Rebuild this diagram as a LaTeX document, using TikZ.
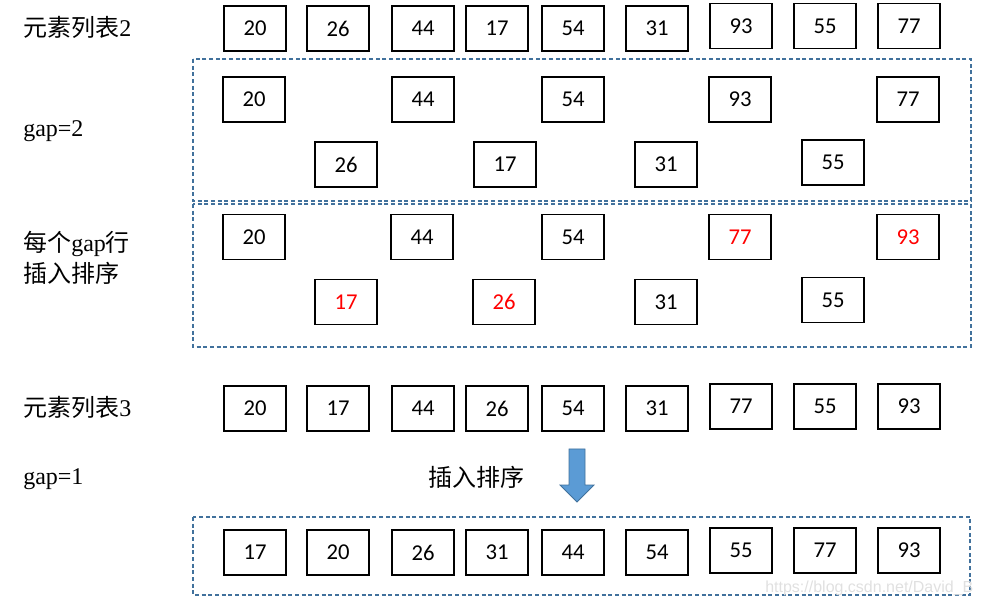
\documentclass[tikz,border=0pt]{standalone}
\usepackage{fontspec}
\setmainfont{Liberation Serif}
\newfontfamily\cjk{Noto Sans CJK SC}
\newfontfamily\numfont{Carlito}
\newfontfamily\wmfont{Liberation Sans}
\definecolor{dashblue}{HTML}{41719C}
\definecolor{arrowfill}{HTML}{5B9BD5}
\tikzset{
  cell/.style={draw=black, line width=1pt, minimum width=46.5pt, minimum height=33.75pt, inner sep=0pt, font=\numfont\fontsize{17}{17}\selectfont},
  redcell/.style={cell, text=red},
  group/.style={draw=dashblue, line width=0.8pt, dash pattern=on 3pt off 2pt},
  lbl/.style={anchor=west, inner sep=0pt, font=\fontsize{18}{20}\selectfont}
}
\begin{document}
\begin{tikzpicture}[x=0.75pt,y=-0.75pt]
\useasboundingbox (0,0) rectangle (981,605);
% labels
\node[lbl] (l1) at (23,27) {{\cjk 元素列表}2};
\node[lbl] (l2) at (23,131) {gap=2};
\node[lbl] (l3) at (23,244) {{\cjk 每个}gap{\cjk 行}};
\node[lbl] (l3b) at (23,273) {{\cjk 插入排序}};
\node[lbl] (l4) at (23,407) {{\cjk 元素列表}3};
\node[lbl] (l5) at (23,479) {gap=1};
\node[inner sep=0pt, font=\cjk\fontsize{18}{20}\selectfont] (l6) at (476,477) {插入排序};
% row 1
\node[cell] (a1) at (255,28.5) {20};
\node[cell] (a2) at (338,28.5) {26};
\node[cell] (a3) at (423,28.5) {44};
\node[cell] (a4) at (497,28.5) {17};
\node[cell] (a5) at (573,28.5) {54};
\node[cell] (a6) at (657,28.5) {31};
\node[cell] (a7) at (741,26) {93};
\node[cell] (a8) at (825,26) {55};
\node[cell] (a9) at (909,26) {77};
% group 1
\draw[group] (193,59) rectangle (971,201);
\node[cell] (b1) at (254,99.5) {20};
\node[cell] (b3) at (423,99.5) {44};
\node[cell] (b5) at (573,99.5) {54};
\node[cell] (b7) at (740,99.5) {93};
\node[cell] (b9) at (908,99.5) {77};
\node[cell] (b2) at (346,164.5) {26};
\node[cell] (b4) at (505,164.5) {17};
\node[cell] (b6) at (666,164.5) {31};
\node[cell] (b8) at (833,162.5) {55};
% group 2
\draw[group] (193,204) rectangle (971,347);
\node[cell] (c1) at (254,237) {20};
\node[cell] (c3) at (422,237) {44};
\node[cell] (c5) at (573,237) {54};
\node[redcell] (c7) at (740,237) {77};
\node[redcell] (c9) at (908,237) {93};
\node[redcell] (c2) at (346,302) {17};
\node[redcell] (c4) at (504,302) {26};
\node[cell] (c6) at (666,302) {31};
\node[cell] (c8) at (833,300) {55};
% row 3
\node[cell] (d1) at (255,408.5) {20};
\node[cell] (d2) at (338,408.5) {17};
\node[cell] (d3) at (423,408.5) {44};
\node[cell] (d4) at (497,408.5) {26};
\node[cell] (d5) at (573,408.5) {54};
\node[cell] (d6) at (657,408.5) {31};
\node[cell] (d7) at (741,406.5) {77};
\node[cell] (d8) at (825,406.5) {55};
\node[cell] (d9) at (909,406.5) {93};
% arrow
\draw[draw=dashblue, fill=arrowfill, line width=0.6pt, line join=miter]
  (569,449) -- (585,449) -- (585,485) -- (594,485) -- (577,502) -- (560,485) -- (569,485) -- cycle;
% group 3
\draw[group] (193,517) rectangle (970,595);
\node[cell] (e1) at (255,552.5) {17};
\node[cell] (e2) at (338,552.5) {20};
\node[cell] (e3) at (423,552.5) {26};
\node[cell] (e4) at (497,552.5) {31};
\node[cell] (e5) at (573,552.5) {44};
\node[cell] (e6) at (657,552.5) {54};
\node[cell] (e7) at (741,550.5) {55};
\node[cell] (e8) at (825,550.5) {77};
\node[cell] (e9) at (909,550.5) {93};
% watermark
\node[anchor=west, inner sep=0pt, text=black!12, font=\wmfont\fontsize{12}{12}\selectfont] (wm) at (765,588) {https://blog.csdn.net/David\_B};
\end{tikzpicture}
\end{document}
